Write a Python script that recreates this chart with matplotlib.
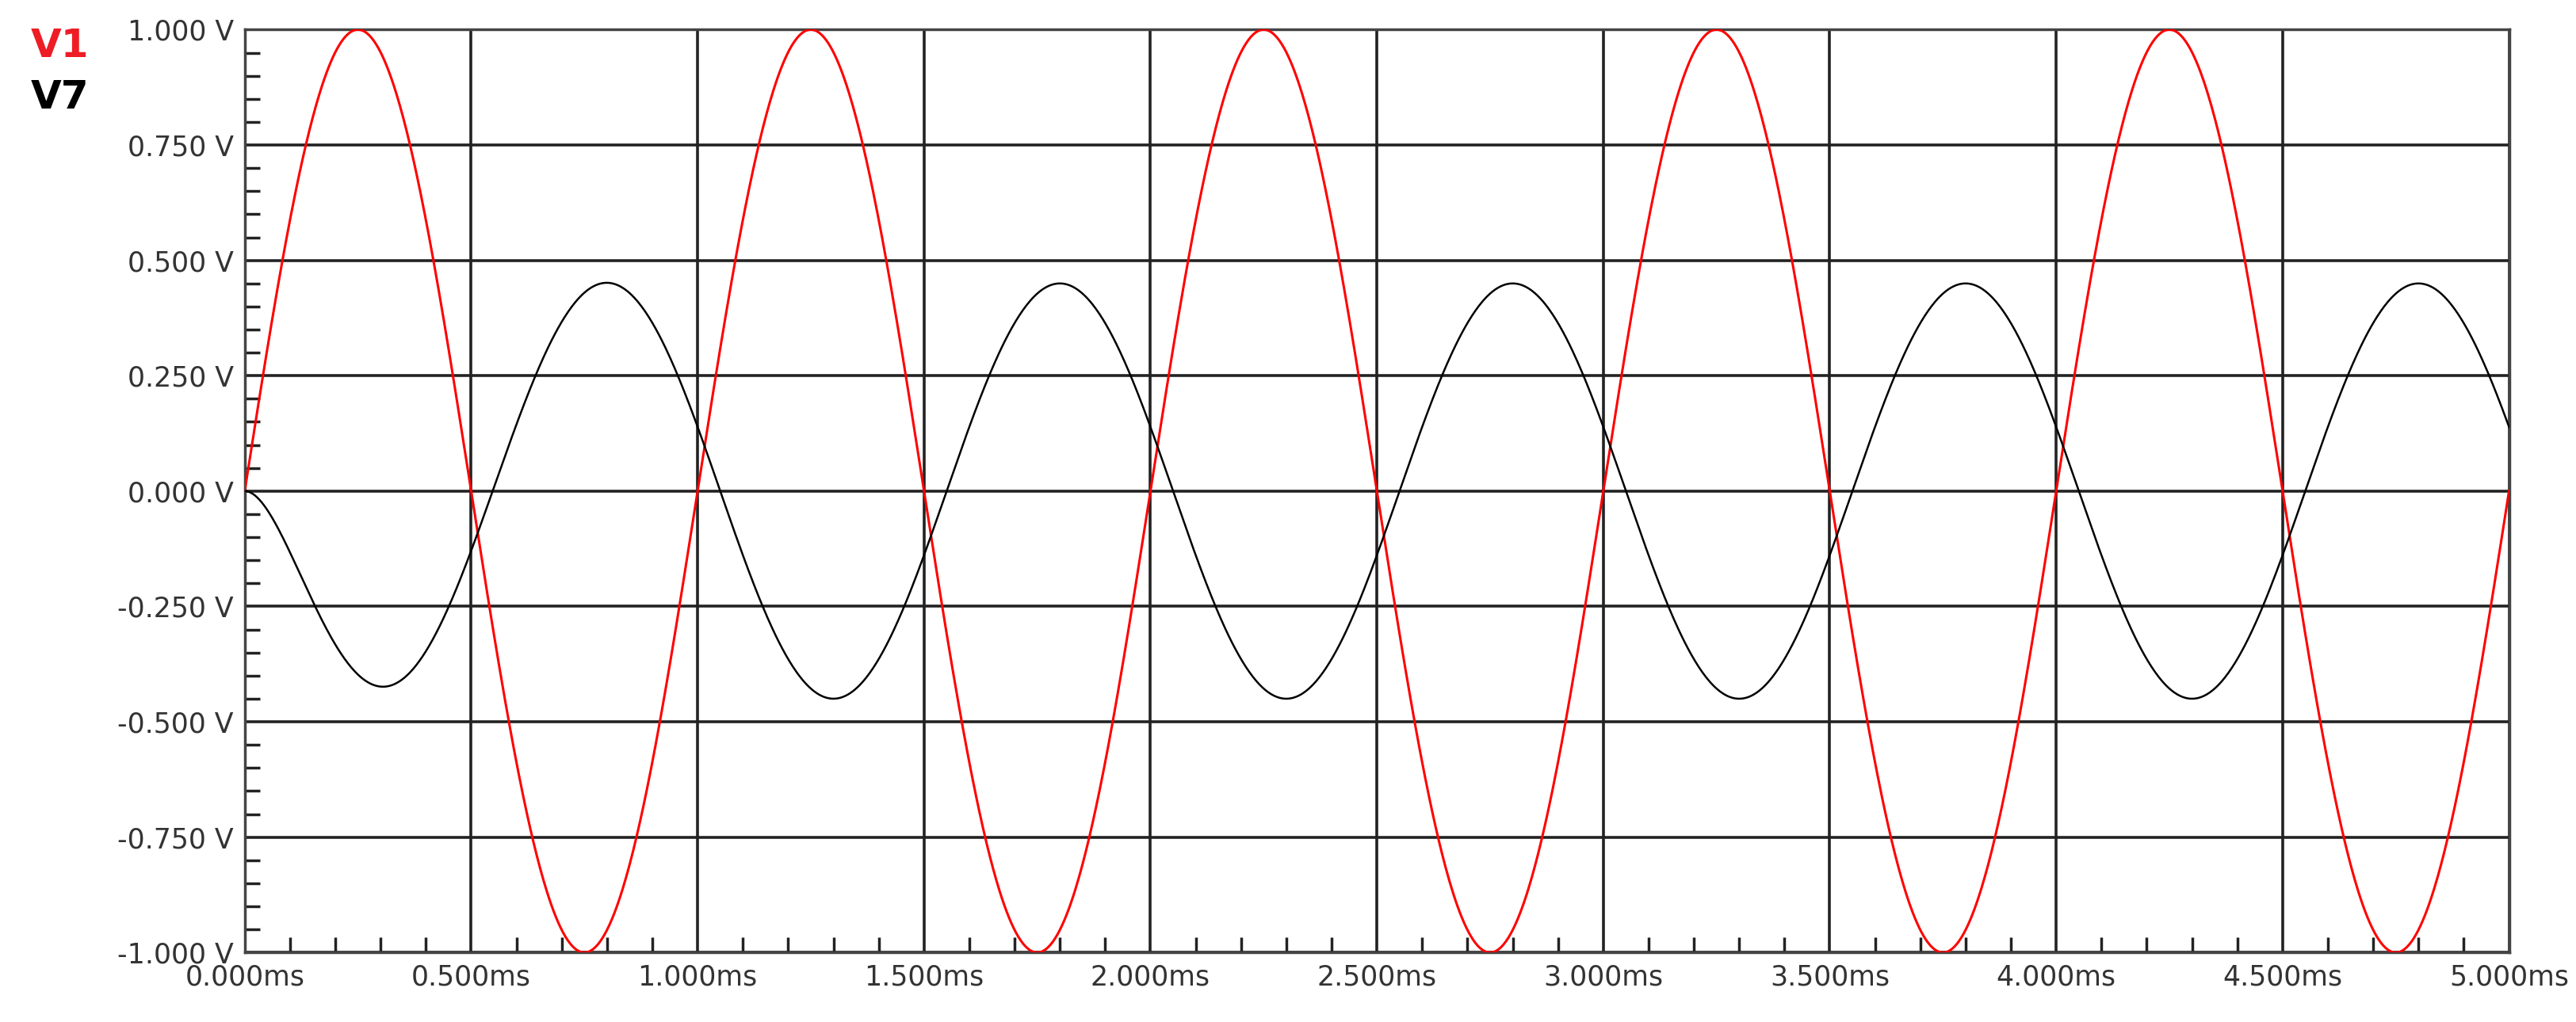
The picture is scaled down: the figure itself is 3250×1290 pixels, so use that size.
import matplotlib
matplotlib.use("Agg")
import matplotlib.pyplot as plt
import numpy as np
from matplotlib.ticker import MultipleLocator, FuncFormatter

# Signal parameters (time in ms)
freq_khz = 1.0
v1_amplitude = 1.0
v7_amplitude = 0.45
v7_zero_cross_ms = 0.55
v7_transient_tau_ms = 0.12

x_ticks = [0.0, 0.5, 1.0, 1.5, 2.0, 2.5, 3.0, 3.5, 4.0, 4.5, 5.0]
y_ticks = [-1.0, -0.75, -0.5, -0.25, 0.0, 0.25, 0.5, 0.75, 1.0]

t = np.linspace(0, 5.0, 2001)
w = 2 * np.pi * freq_khz
v1 = v1_amplitude * np.sin(w * t)
steady = v7_amplitude * np.sin(w * (t - v7_zero_cross_ms))
# circuit starts at rest: value and slope both zero at t=0
a = -v7_amplitude * np.sin(-w * v7_zero_cross_ms)
slope0 = v7_amplitude * w * np.cos(-w * v7_zero_cross_ms)
b = a / v7_transient_tau_ms - slope0
v7 = steady + (a + b * t) * np.exp(-t / v7_transient_tau_ms)

fig = plt.figure(figsize=(32.5, 12.9), dpi=100)
ax = fig.add_axes([0.095, 0.068, 0.879, 0.903])

ax.plot(t, v1, color="#ff0000", linewidth=2.2, zorder=3)
ax.plot(t, v7, color="black", linewidth=1.8, zorder=3)

ax.set_xlim(0, 5.0)
ax.set_ylim(-1.0, 1.0)
ax.set_xticks(x_ticks)
ax.set_yticks(y_ticks)
ax.xaxis.set_minor_locator(MultipleLocator(0.1))
ax.yaxis.set_minor_locator(MultipleLocator(0.05))
ax.xaxis.set_major_formatter(FuncFormatter(lambda v, p: f"{v:.3f}ms"))
ax.yaxis.set_major_formatter(FuncFormatter(lambda v, p: f"{v:.3f} V"))

ax.grid(True, which="major", color="#222222", linewidth=2.6)
ax.tick_params(which="major", length=0, labelsize=25, labelcolor="#333333", pad=10)
ax.tick_params(which="minor", direction="in", length=14, width=2.5, color="#222222")
for s in ax.spines.values():
    s.set_color("#444444")
    s.set_linewidth(2.5)

fig.text(0.012, 0.955, "V1", color="#ee1c24", fontsize=36, fontweight="bold", va="center")
fig.text(0.012, 0.905, "V7", color="black", fontsize=36, fontweight="bold", va="center")

fig.savefig("out.png")
